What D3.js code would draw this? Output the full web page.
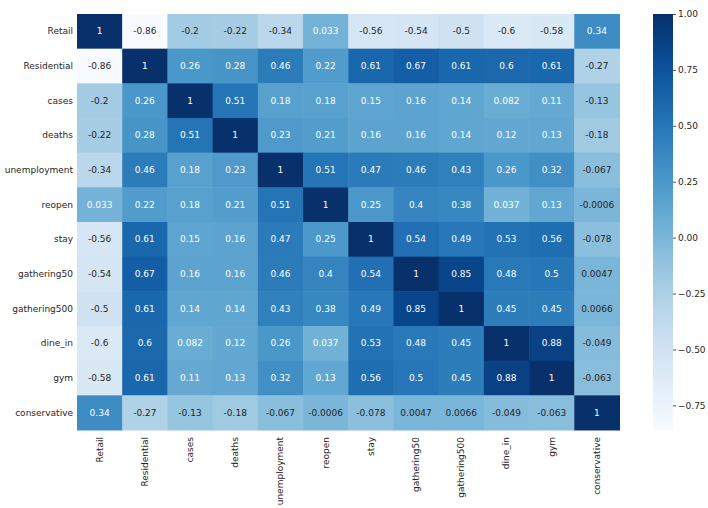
<!DOCTYPE html>
<html>
<head>
<meta charset="utf-8">
<script src="https://cdn.jsdelivr.net/npm/d3@7"></script>
<style>
  body { margin: 0; background: #fff; }
  svg { display: block; font-family: "DejaVu Sans", sans-serif; }
</style>
</head>
<body>
<svg id="chart" width="708" height="508"></svg>
<script>
var labels = ["Retail", "Residential", "cases", "deaths", "unemployment", "reopen",
  "stay", "gathering50", "gathering500", "dine_in", "gym", "conservative"];

// correlation rows, same order as labels
var retail       = [1, -0.86, -0.2, -0.22, -0.34, 0.033, -0.56, -0.54, -0.5, -0.6, -0.58, 0.34];
var residential  = [-0.86, 1, 0.26, 0.28, 0.46, 0.22, 0.61, 0.67, 0.61, 0.6, 0.61, -0.27];
var cases        = [-0.2, 0.26, 1, 0.51, 0.18, 0.18, 0.15, 0.16, 0.14, 0.082, 0.11, -0.13];
var deaths       = [-0.22, 0.28, 0.51, 1, 0.23, 0.21, 0.16, 0.16, 0.14, 0.12, 0.13, -0.18];
var unemployment = [-0.34, 0.46, 0.18, 0.23, 1, 0.51, 0.47, 0.46, 0.43, 0.26, 0.32, -0.067];
var reopen       = [0.033, 0.22, 0.18, 0.21, 0.51, 1, 0.25, 0.4, 0.38, 0.037, 0.13, -0.0006];
var stay         = [-0.56, 0.61, 0.15, 0.16, 0.47, 0.25, 1, 0.54, 0.49, 0.53, 0.56, -0.078];
var gathering50  = [-0.54, 0.67, 0.16, 0.16, 0.46, 0.4, 0.54, 1, 0.85, 0.48, 0.5, 0.0047];
var gathering500 = [-0.5, 0.61, 0.14, 0.14, 0.43, 0.38, 0.49, 0.85, 1, 0.45, 0.45, 0.0066];
var dineIn       = [-0.6, 0.6, 0.082, 0.12, 0.26, 0.037, 0.53, 0.48, 0.45, 1, 0.88, -0.049];
var gym          = [-0.58, 0.61, 0.11, 0.13, 0.32, 0.13, 0.56, 0.5, 0.45, 0.88, 1, -0.063];
var conservative = [0.34, -0.27, -0.13, -0.18, -0.067, -0.0006, -0.078, 0.0047, 0.0066, -0.049, -0.063, 1];

var matrix = [retail, residential, cases, deaths, unemployment, reopen,
  stay, gathering50, gathering500, dineIn, gym, conservative];

var colorTicks = [1, 0.75, 0.5, 0.25, 0, -0.25, -0.5, -0.75];

var svg = d3.select("#chart");
var plotLeft = 77, plotTop = 14, plotRight = 619.5, plotBottom = 430;

var x = d3.scaleBand().domain(labels).range([plotLeft, plotRight]);
var y = d3.scaleBand().domain(labels).range([plotTop, plotBottom]);
var vmin = -0.86, vmax = 1;
var color = d3.scaleSequential(d3.interpolateBlues).domain([vmin, vmax]);

// relative luminance, as seaborn uses to pick annotation colour
function luminance(c) {
    var rgb = d3.rgb(c);
    var ch = [rgb.r, rgb.g, rgb.b].map(function (v) {
        v = v / 255;
        return v <= 0.03928 ? v / 12.92 : Math.pow((v + 0.055) / 1.055, 2.4);
    });
    return 0.2126 * ch[0] + 0.7152 * ch[1] + 0.0722 * ch[2];
}

var cells = [];
matrix.forEach(function (row, i) {
    row.forEach(function (v, j) {
        cells.push({row: labels[i], col: labels[j], value: v});
    });
});

var g = svg.append("g");

g.selectAll("rect.cell")
    .data(cells)
    .enter()
    .append("rect")
    .attr("class", "cell")
    .attr("x", function (d) { return x(d.col); })
    .attr("y", function (d) { return y(d.row); })
    .attr("width", x.bandwidth() + 0.5)
    .attr("height", y.bandwidth() + 0.5)
    .attr("fill", function (d) { return color(d.value); });

g.selectAll("text.annot")
    .data(cells)
    .enter()
    .append("text")
    .attr("class", "annot")
    .attr("x", function (d) { return x(d.col) + x.bandwidth() / 2; })
    .attr("y", function (d) { return y(d.row) + y.bandwidth() / 2; })
    .attr("text-anchor", "middle")
    .attr("dominant-baseline", "central")
    .attr("font-size", 9)
    .attr("fill", function (d) {
        return luminance(color(d.value)) > 0.408 ? "#262626" : "#ffffff";
    })
    .text(function (d) { return String(d.value); });

// row labels
svg.append("g")
    .selectAll("text")
    .data(labels)
    .enter()
    .append("text")
    .attr("x", plotLeft - 4)
    .attr("y", function (d) { return y(d) + y.bandwidth() / 2; })
    .attr("text-anchor", "end")
    .attr("dominant-baseline", "central")
    .attr("font-size", 9)
    .attr("fill", "#262626")
    .text(function (d) { return d; });

// column labels, rotated
svg.append("g")
    .selectAll("text")
    .data(labels)
    .enter()
    .append("text")
    .attr("transform", function (d) {
        return "translate(" + (x(d) + x.bandwidth() / 2) + "," + (plotBottom + 7) + ") rotate(-90)";
    })
    .attr("text-anchor", "end")
    .attr("dominant-baseline", "central")
    .attr("font-size", 9)
    .attr("fill", "#262626")
    .text(function (d) { return d; });

// colorbar
var cbLeft = 653, cbWidth = 20;
var cbScale = d3.scaleLinear().domain([vmin, vmax]).range([plotBottom, plotTop]);

var grad = svg.append("defs").append("linearGradient")
    .attr("id", "cbgrad")
    .attr("x1", 0).attr("y1", 1).attr("x2", 0).attr("y2", 0);
d3.range(0, 1.0001, 0.05).forEach(function (t) {
    grad.append("stop")
        .attr("offset", t)
        .attr("stop-color", color(vmin + t * (vmax - vmin)));
});

svg.append("rect")
    .attr("x", cbLeft)
    .attr("y", plotTop)
    .attr("width", cbWidth)
    .attr("height", plotBottom - plotTop)
    .attr("fill", "url(#cbgrad)");

var cbAxis = d3.axisRight(cbScale)
    .tickValues(colorTicks)
    .tickSize(3)
    .tickPadding(2)
    .tickFormat(function (d) { return d3.format(".2f")(d).replace("-", "\u2212"); });

var axisG = svg.append("g")
    .attr("transform", "translate(" + (cbLeft + cbWidth) + ",0)")
    .call(cbAxis);
axisG.select(".domain").remove();
axisG.selectAll("line").attr("stroke", "#262626").attr("stroke-width", 0.8);
axisG.selectAll("text")
    .attr("font-size", 9)
    .attr("font-family", "DejaVu Sans, sans-serif")
    .attr("fill", "#262626");
</script>
</body>
</html>
